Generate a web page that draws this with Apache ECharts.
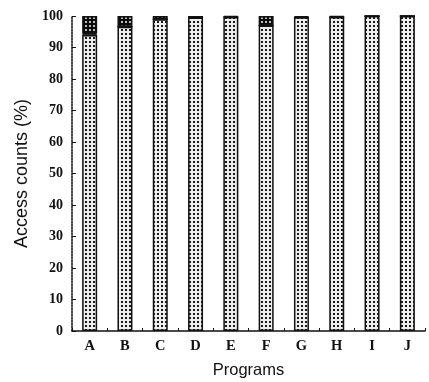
<!DOCTYPE html>
<html>
<head>
<meta charset="utf-8">
<script src="https://cdn.jsdelivr.net/npm/echarts@6/dist/echarts.min.js"></script>
<style>
  html, body { margin: 0; padding: 0; background: #fff; }
  #chart { width: 429px; height: 382px; }
</style>
</head>
<body>
<div id="chart"></div>
<script>
// Programs and share of access counts (%) per segment
const programs = ['A', 'B', 'C', 'D', 'E', 'F', 'G', 'H', 'I', 'J'];
const mainShare = [94.0, 96.6, 99.0, 99.5, 99.7, 97.0, 99.6, 99.7, 100, 100];
const gapShare  = [0.6, 0, 0, 0, 0, 0, 0, 0, 0, 0];
const topShare  = [5.4, 3.4, 1.0, 0.5, 0.3, 3.0, 0.4, 0.3, 0, 0];
const yTicks = [0, 10, 20, 30, 40, 50, 60, 70, 80, 90, 100];

// Small dotted fill patterns for the bars
function dotPattern(bg, dot) {
  const c = document.createElement('canvas');
  c.width = 4; c.height = 4;
  const g = c.getContext('2d');
  g.fillStyle = bg; g.fillRect(0, 0, 4, 4);
  g.fillStyle = dot;
  g.fillRect(1, 1, 2, 2);
  return { image: c, repeat: 'repeat' };
}
const lightFill = dotPattern('#eeeeee', '#1a1a1a');
const darkFill = dotPattern('#0a0a0a', '#bbb');

const chart = echarts.init(document.getElementById('chart'), null, { renderer: 'canvas' });
const serif = '"Liberation Serif", "DejaVu Serif", serif';
const sans = '"Liberation Sans", Arial, sans-serif';

chart.setOption({
  animation: false,
  grid: { left: 72, right: 4, top: 16, bottom: 51, outerBoundsMode: 'none', containLabel: false },
  xAxis: {
    type: 'category',
    data: programs,
    name: 'Programs',
    nameLocation: 'middle',
    nameGap: 31,
    nameTextStyle: { fontFamily: sans, fontSize: 16.5, color: '#111' },
    axisLine: { lineStyle: { color: '#111', width: 1.5 } },
    axisTick: { show: true, inside: true, length: 3, lineStyle: { color: '#111' } },
    axisLabel: { fontFamily: serif, fontSize: 14.5, fontWeight: 'bold', color: '#111', margin: 8 }
  },
  yAxis: {
    type: 'value',
    min: yTicks[0],
    max: yTicks[yTicks.length - 1],
    interval: yTicks[1] - yTicks[0],
    name: 'Access counts (%)',
    nameLocation: 'middle',
    nameGap: 40,
    nameTextStyle: { fontFamily: sans, fontSize: 18, color: '#111' },
    axisLine: { show: true, lineStyle: { color: '#111', width: 1.5, type: [2, 1] } },
    axisTick: { show: true, inside: true, length: 4, lineStyle: { color: '#111' } },
    splitLine: { show: false },
    axisLabel: { fontFamily: serif, fontSize: 14, fontWeight: 'bold', color: '#111', margin: 9 }
  },
  series: [
    {
      type: 'bar', stack: 'total', data: mainShare, barWidth: 15,
      itemStyle: { color: lightFill, borderColor: '#111', borderWidth: 1.5 }
    },
    {
      type: 'bar', stack: 'total', data: gapShare, barWidth: 15,
      itemStyle: { color: '#fff', borderColor: '#111', borderWidth: 1 }
    },
    {
      type: 'bar', stack: 'total', data: topShare, barWidth: 15,
      itemStyle: { color: darkFill, borderColor: '#111', borderWidth: 1.5 }
    }
  ]
});
</script>
</body>
</html>
